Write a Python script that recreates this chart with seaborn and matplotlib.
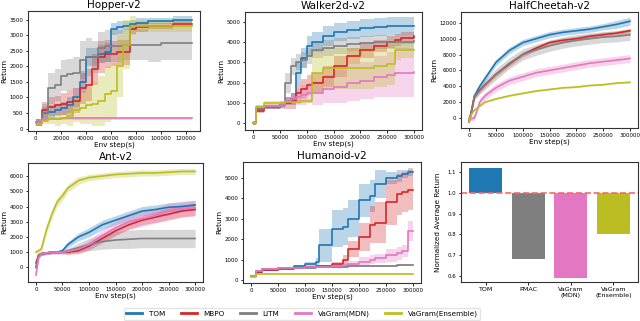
import numpy as np
import matplotlib
matplotlib.use("Agg")
import matplotlib.pyplot as plt
import seaborn as sns

algos = ["TOM", "MBPO", "LITM", "VaGram(MDN)", "VaGram(Ensemble)"]
colors = ["#1f77b4", "#d62728", "#7f7f7f", "#e377c2", "#bcbd22"]

# ---------------- Hopper-v2 ----------------
hopper_x = [0, 5000, 10000, 15000, 20000, 25000, 30000, 35000, 40000, 45000, 50000,
            55000, 60000, 65000, 70000, 75000, 80000, 90000, 100000, 110000, 125000]
hopper_tom = [200, 500, 550, 600, 650, 750, 1000, 1500, 2300, 2300, 2400, 2450, 3200,
              3250, 3300, 3350, 3400, 3450, 3450, 3500, 3500]
hopper_tom_sd = [100, 200, 200, 200, 200, 250, 300, 350, 300, 300, 300, 300, 200, 200,
                 150, 150, 150, 100, 100, 100, 100]
hopper_mbpo = [200, 600, 700, 750, 800, 850, 900, 1300, 1400, 1900, 2300, 2400, 2400,
               2450, 2450, 3200, 3250, 3300, 3300, 3350, 3350]
hopper_mbpo_sd = [100, 250, 300, 300, 350, 400, 400, 500, 500, 500, 500, 450, 400, 400,
                  400, 150, 150, 100, 100, 100, 100]
hopper_litm = [200, 500, 1300, 1400, 1700, 1750, 1800, 2200, 2300, 2300, 2600, 2650,
               2650, 2650, 2700, 2700, 2700, 2700, 2750, 2750, 2750]
hopper_litm_sd = [100, 300, 500, 500, 500, 500, 500, 600, 600, 500, 500, 500, 500, 500,
                  500, 500, 500, 550, 550, 550, 550]
hopper_mdn = [200, 300, 320, 320, 330, 330, 330, 330, 330, 330, 330, 330, 330, 330, 330,
              330, 330, 330, 330, 330, 330]
hopper_mdn_sd = [40, 50, 50, 50, 50, 50, 50, 50, 50, 50, 50, 50, 50, 50, 50, 50, 50, 50,
                 50, 50, 50]
hopper_ens = [150, 250, 300, 300, 350, 400, 600, 650, 750, 800, 900, 1100, 1200, 2000,
              2700, 3300, 3300, 3300, 3300, 3300, 3300]
hopper_ens_sd = [50, 100, 150, 200, 200, 300, 400, 500, 600, 700, 800, 900, 900, 1000,
                 800, 300, 200, 200, 200, 200, 200]

# ---------------- Walker2d-v2 ----------------
walker_x = [0, 5000, 20000, 50000, 60000, 70000, 80000, 90000, 100000, 110000, 130000,
            150000, 175000, 200000, 225000, 250000, 265000, 275000, 300000]
walker_tom = [0, 700, 800, 900, 1100, 1200, 2500, 3200, 3800, 4000, 4300, 4500, 4600,
              4700, 4750, 4800, 4800, 4800, 4800]
walker_tom_sd = [100, 100, 100, 100, 200, 300, 500, 500, 500, 500, 500, 450, 450, 450,
                 450, 450, 450, 450, 450]
walker_mbpo = [0, 600, 800, 900, 1000, 1100, 1500, 1700, 1900, 2000, 2300, 2800, 3300,
               3600, 3800, 4000, 4100, 4200, 4300]
walker_mbpo_sd = [100, 100, 100, 150, 300, 400, 500, 500, 500, 500, 500, 500, 400, 400,
                  300, 300, 300, 300, 300]
walker_litm = [0, 700, 800, 900, 2000, 2800, 3000, 3100, 3300, 3600, 3700, 3800, 3900,
               3950, 4000, 4000, 4000, 4000, 4050]
walker_litm_sd = [100, 100, 100, 200, 500, 400, 400, 400, 400, 400, 400, 400, 350, 350,
                  350, 350, 350, 350, 350]
walker_mdn = [0, 800, 850, 900, 1100, 1200, 1300, 1400, 1500, 1500, 1700, 1800, 2000,
              2100, 2300, 2400, 2500, 2500, 2550]
walker_mdn_sd = [100, 100, 100, 100, 200, 300, 400, 500, 500, 600, 700, 800, 900, 900,
                 1000, 1100, 1200, 1200, 1250]
walker_ens = [0, 800, 1000, 1000, 1050, 1050, 1050, 1100, 1100, 2500, 2700, 2700, 2700,
              2700, 2800, 2900, 3600, 3600, 3600]
walker_ens_sd = [100, 100, 100, 100, 100, 100, 100, 100, 100, 1000, 1000, 1000, 1000,
                 1000, 1000, 1000, 500, 400, 400]

# ---------------- HalfCheetah-v2 ----------------
cheetah_x = [0, 5000, 10000, 20000, 30000, 50000, 75000, 100000, 125000, 150000,
             175000, 200000, 225000, 250000, 275000, 300000]
cheetah_tom = [-500, 1000, 2800, 4000, 5000, 7000, 8500, 9500, 10000, 10500, 10800,
               11000, 11200, 11500, 11800, 12200]
cheetah_tom_sd = [100, 300, 300, 400, 400, 400, 400, 400, 400, 400, 400, 400, 400, 400,
                  500, 500]
cheetah_mbpo = [-500, 1000, 2700, 3500, 4200, 5500, 6800, 8000, 8800, 9500, 9800, 10000,
                10300, 10500, 10700, 11000]
cheetah_mbpo_sd = [100, 300, 300, 300, 300, 300, 300, 300, 300, 300, 300, 300, 300, 300,
                   300, 300]
cheetah_litm = [-500, 1000, 2700, 3500, 4200, 5500, 6900, 8000, 8600, 9100, 9500, 9800,
                10000, 10200, 10300, 10500]
cheetah_litm_sd = [100, 300, 400, 500, 600, 700, 700, 700, 700, 700, 700, 700, 700, 700,
                   700, 700]
cheetah_mdn = [0, -100, 0, 2000, 2800, 3800, 4700, 5200, 5700, 6000, 6300, 6600, 6900,
               7100, 7300, 7500]
cheetah_mdn_sd = [200, 300, 300, 500, 500, 500, 500, 500, 500, 500, 500, 500, 500, 500,
                  500, 500]
cheetah_ens = [-500, 500, 1000, 1500, 2000, 2400, 2800, 3100, 3400, 3600, 3800, 3900,
               4100, 4200, 4400, 4500]
cheetah_ens_sd = [50, 100, 100, 100, 100, 100, 100, 100, 100, 100, 100, 100, 100, 100,
                  100, 100]

# ---------------- Ant-v2 ----------------
ant_x = [0, 5000, 10000, 20000, 30000, 40000, 50000, 60000, 80000, 100000, 125000,
         150000, 175000, 200000, 225000, 250000, 275000, 300000]
ant_tom = [0, 800, 900, 950, 1000, 1000, 1100, 1500, 2000, 2300, 2800, 3100, 3400, 3700,
           3800, 3950, 4000, 4100]
ant_tom_sd = [100, 100, 100, 100, 100, 100, 150, 200, 250, 300, 300, 300, 300, 300, 300,
              300, 300, 300]
ant_mbpo = [300, 800, 900, 950, 1000, 1000, 1000, 1000, 1100, 1400, 1900, 2400, 2800,
            3100, 3300, 3500, 3700, 3800]
ant_mbpo_sd = [100, 100, 100, 100, 100, 100, 100, 150, 200, 250, 300, 300, 300, 300, 350,
               400, 400, 400]
ant_litm = [0, 800, 900, 950, 1000, 1000, 1000, 1100, 1300, 1500, 1700, 1800, 1850, 1900,
            1900, 1900, 1900, 1900]
ant_litm_sd = [50, 100, 100, 100, 100, 100, 100, 150, 300, 400, 500, 550, 600, 600, 600,
               600, 600, 600]
ant_mdn = [-500, 600, 900, 950, 1000, 1000, 1000, 1050, 1200, 1500, 2100, 2600, 3000,
           3200, 3400, 3700, 3850, 3900]
ant_mdn_sd = [100, 100, 100, 100, 100, 100, 100, 150, 200, 300, 400, 450, 500, 500, 500,
              500, 500, 500]
ant_ens = [1000, 1100, 1200, 2500, 3500, 4300, 4700, 5200, 5700, 5900, 6000, 6100, 6150,
           6200, 6200, 6250, 6300, 6300]
ant_ens_sd = [150, 150, 200, 300, 300, 300, 300, 250, 250, 200, 200, 200, 200, 200, 200,
              200, 200, 200]

# ---------------- Humanoid-v2 ----------------
human_x = [0, 10000, 20000, 50000, 80000, 100000, 120000, 125000, 150000, 170000,
           180000, 200000, 220000, 230000, 250000, 270000, 280000, 290000, 300000]
human_tom = [200, 400, 500, 600, 700, 800, 900, 1700, 2500, 2600, 3000, 3900, 4100, 4700,
             5000, 5100, 5200, 5300, 5300]
human_tom_sd = [50, 50, 50, 50, 50, 100, 150, 800, 900, 900, 900, 800, 800, 700, 300,
                300, 200, 200, 200]
human_mbpo = [200, 400, 500, 550, 600, 650, 700, 700, 800, 1000, 1500, 2100, 2700, 2800,
              3800, 4200, 4300, 4400, 4400]
human_mbpo_sd = [50, 50, 50, 50, 50, 50, 50, 50, 100, 200, 400, 700, 900, 1000, 1100,
                 1000, 1000, 1000, 1000]
human_litm = [200, 450, 550, 600, 600, 600, 620, 620, 640, 650, 660, 680, 690, 700, 700,
              720, 730, 740, 750]
human_litm_sd = [50] * 19
human_mdn = [200, 450, 550, 600, 600, 620, 650, 650, 700, 750, 800, 900, 1000, 1050,
             1200, 1300, 1400, 2400, 2400]
human_mdn_sd = [50, 50, 50, 50, 50, 50, 50, 50, 100, 100, 150, 200, 200, 200, 300, 300,
                300, 500, 500]
human_ens = [150, 300, 300, 300, 300, 300, 300, 300, 300, 300, 300, 300, 300, 300, 300,
             300, 300, 300, 300]
human_ens_sd = [30] * 19

# ---------------- Normalized average return ----------------
bar_labels = ["TOM", "PMAC", "VaGram\n(MDN)", "VaGram\n(Ensemble)"]
bar_values = [1.12, 0.68, 0.59, 0.80]
bar_colors = ["#1f77b4", "#7f7f7f", "#e377c2", "#bcbd22"]

plt.rcParams["font.family"] = ["DejaVu Sans"]
plt.rcParams["axes.edgecolor"] = "#333333"
plt.rcParams["axes.linewidth"] = 0.8

fig = plt.figure(figsize=(6.4, 3.21), dpi=100)
W, H = 640, 321


def box(l, t, r, b):
    return [l / W, 1 - b / H, (r - l) / W, (b - t) / H]


def curve_panel(rect, title, x, series, step, xticks):
    ax = fig.add_axes(rect)
    for (m, sd), c, name in zip(series, colors, algos):
        m = np.array(m, float)
        sd = np.array(sd, float)
        sns.lineplot(x=x, y=m, color=c, lw=1.2, ax=ax, label=name,
                     drawstyle="steps-post" if step else "default")
        ax.fill_between(x, m - sd, m + sd, color=c, alpha=0.3, lw=0,
                        step="post" if step else None)
    ax.set_title(title, fontsize=7.5, pad=2.5)
    ax.set_xlabel("Env step(s)", fontsize=5.2, labelpad=1)
    ax.set_ylabel("Return", fontsize=5.2, labelpad=1.5)
    ax.set_xticks(xticks)
    ax.tick_params(labelsize=3.9, length=1.8, width=0.6, pad=1.5)
    ax.get_legend().remove()
    return ax


curve_panel(box(28, 11, 200, 131), "Hopper-v2", hopper_x,
            [(hopper_tom, hopper_tom_sd), (hopper_mbpo, hopper_mbpo_sd),
             (hopper_litm, hopper_litm_sd), (hopper_mdn, hopper_mdn_sd),
             (hopper_ens, hopper_ens_sd)], True, range(0, 120001, 20000))
curve_panel(box(245, 12, 422, 130), "Walker2d-v2", walker_x,
            [(walker_tom, walker_tom_sd), (walker_mbpo, walker_mbpo_sd),
             (walker_litm, walker_litm_sd), (walker_mdn, walker_mdn_sd),
             (walker_ens, walker_ens_sd)], True, range(0, 300001, 50000))
curve_panel(box(461, 12, 638, 128), "HalfCheetah-v2", cheetah_x,
            [(cheetah_tom, cheetah_tom_sd), (cheetah_mbpo, cheetah_mbpo_sd),
             (cheetah_litm, cheetah_litm_sd), (cheetah_mdn, cheetah_mdn_sd),
             (cheetah_ens, cheetah_ens_sd)], False, range(0, 300001, 50000))
curve_panel(box(28, 163, 203, 282), "Ant-v2", ant_x,
            [(ant_tom, ant_tom_sd), (ant_mbpo, ant_mbpo_sd),
             (ant_litm, ant_litm_sd), (ant_mdn, ant_mdn_sd),
             (ant_ens, ant_ens_sd)], False, range(0, 300001, 50000))
curve_panel(box(243, 162, 421, 283), "Humanoid-v2", human_x,
            [(human_tom, human_tom_sd), (human_mbpo, human_mbpo_sd),
             (human_litm, human_litm_sd), (human_mdn, human_mdn_sd),
             (human_ens, human_ens_sd)], True, range(0, 300001, 50000))

# bar panel: bars start at 1.0
axb = fig.add_axes(box(461, 162, 638, 282))
heights = [v - 1.0 for v in bar_values]
sns.barplot(x=bar_labels, y=heights, hue=bar_labels, palette=bar_colors,
            bottom=1.0, width=0.78, saturation=1, legend=False, ax=axb)
axb.axhline(1.0, color="#ff6666", ls="--", lw=1.2)
axb.set_ylim(0.57, 1.15)
axb.set_xlim(-0.58, 3.58)
axb.set_yticks([0.6, 0.7, 0.8, 0.9, 1.0, 1.1])
axb.set_ylabel("Normalized Average Return", fontsize=5.2, labelpad=5)
axb.tick_params(axis="y", labelsize=3.9, length=1.8, width=0.6, pad=1.5)
axb.tick_params(axis="x", labelsize=4.6, length=1.8, width=0.6, pad=2)

handles = [plt.Line2D([], [], color=c, lw=2) for c in colors]
fig.legend(handles, algos, loc="center", bbox_to_anchor=(302 / W, 1 - 314 / H),
           ncol=5, fontsize=5.2, frameon=True, handlelength=2.2, columnspacing=2.2,
           borderpad=0.35, handletextpad=0.9, edgecolor="#dddddd", fancybox=True)

fig.savefig("out.png", dpi=100)
